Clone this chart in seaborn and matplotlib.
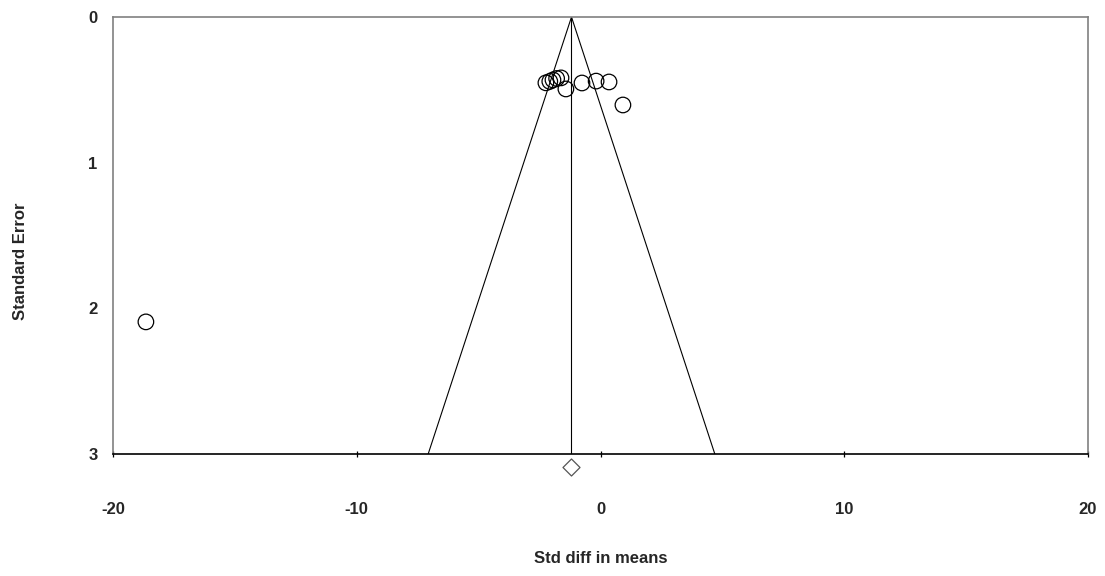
import matplotlib
matplotlib.use("Agg")
import matplotlib.pyplot as plt
import seaborn as sns
import numpy as np
import pandas as pd

# Study effect sizes (Std diff in means) and standard errors
std_diff = [-2.24, -2.08, -1.95, -1.80, -1.62, -1.42, -0.76, -0.18, 0.35, 0.92, -18.65]
std_err = [0.452, 0.442, 0.432, 0.422, 0.418, 0.494, 0.453, 0.44, 0.446, 0.604, 2.093]

pooled_estimate = -1.19
pooled_marker_se = 3.09
z_crit = 1.96

x_ticks = [-20, -10, 0, 10, 20]
y_ticks = [0, 1, 2, 3]
x_label = "Std diff in means"
y_label = "Standard Error"

sns.set_theme(style="white")
plt.rcParams['font.family'] = ['Liberation Sans', 'DejaVu Sans']

fig = plt.figure(figsize=(11.05, 5.76), dpi=100)
ax = fig.add_axes([113/1105, 1-454/576, (1088-113)/1105, (454-17)/576])

df = pd.DataFrame({"x": std_diff, "se": std_err})

# Funnel lines
se_max = y_ticks[-1]
funnel = pd.DataFrame({
    "x": [pooled_estimate - z_crit*se_max, pooled_estimate, pooled_estimate + z_crit*se_max],
    "se": [se_max, 0, se_max],
})
ax.plot(funnel["x"], funnel["se"], color="black", lw=0.8, zorder=2)
ax.plot([pooled_estimate, pooled_estimate], [0, se_max], color="black", lw=0.8, zorder=2)

sns.scatterplot(data=df, x="x", y="se", ax=ax, marker="o", s=125,
                facecolor="none", edgecolor="black", linewidth=0.9, zorder=3)

ax.scatter([pooled_estimate], [pooled_marker_se], marker="D", s=75,
           facecolor="white", edgecolor="#555555", linewidth=0.9, clip_on=False, zorder=4)

ax.set_xlim(x_ticks[0], x_ticks[-1])
ax.set_ylim(y_ticks[-1], y_ticks[0])
ax.set_xticks(x_ticks)
ax.set_yticks(y_ticks)
ax.set_xticklabels([str(t) for t in x_ticks], fontsize=12, fontweight="bold")
ax.set_yticklabels([str(t) for t in y_ticks], fontsize=12, fontweight="bold")
ax.tick_params(axis="x", direction="inout", length=5, width=0.9, color="black", pad=32, bottom=True)
ax.tick_params(axis="y", length=0, pad=11, left=False)

ax.set_xlabel(x_label, fontsize=12, fontweight="bold")
ax.set_ylabel(y_label, fontsize=12, fontweight="bold")
ax.xaxis.set_label_coords(0.5, -0.222)
ax.yaxis.set_label_coords(-0.087, 0.44)

for side in ["top", "left", "right"]:
    ax.spines[side].set_color("#808080")
    ax.spines[side].set_linewidth(1.2)
ax.spines["bottom"].set_color("black")
ax.spines["bottom"].set_linewidth(1.2)

fig.savefig("out.png", dpi=100)
